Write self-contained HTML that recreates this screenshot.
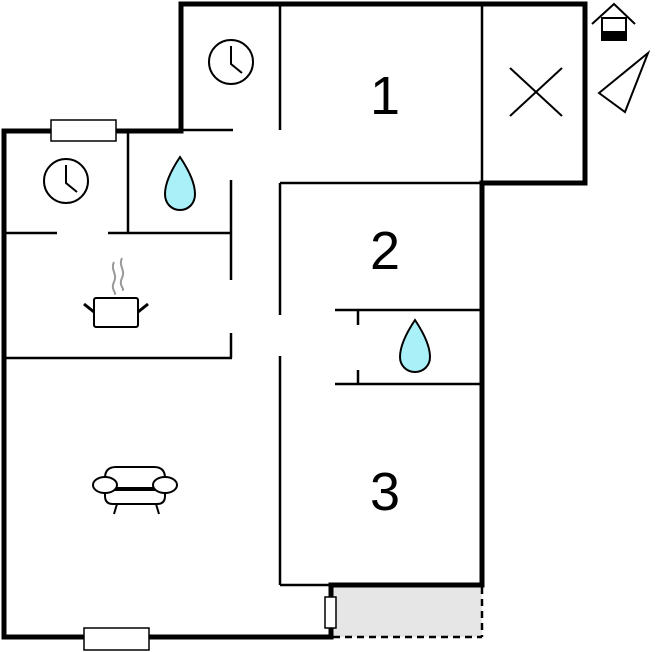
<!DOCTYPE html>
<html><head><style>html,body{margin:0;padding:0;background:#fff}svg{display:block}</style></head>
<body>
<svg width="658" height="652" viewBox="0 0 658 652" xmlns="http://www.w3.org/2000/svg">
<rect x="333" y="587" width="149" height="50" fill="#e6e6e6"/>
<g stroke="#000" stroke-width="2.5" fill="none">
<line x1="280" y1="4" x2="280" y2="130"/>
<line x1="181" y1="130" x2="233" y2="130"/>
<line x1="482" y1="4" x2="482" y2="183"/>
<line x1="280" y1="183" x2="482" y2="183"/>
<line x1="280" y1="183" x2="280" y2="315"/>
<line x1="280" y1="356" x2="280" y2="585"/>
<line x1="280" y1="585" x2="331" y2="585"/>
<line x1="128" y1="131" x2="128" y2="233"/>
<line x1="4" y1="233" x2="57" y2="233"/>
<line x1="108" y1="233" x2="232" y2="233"/>
<line x1="231" y1="180" x2="231" y2="280"/>
<line x1="231" y1="333" x2="231" y2="358"/>
<line x1="4" y1="358" x2="232" y2="358"/>
<line x1="335" y1="310" x2="482" y2="310"/>
<line x1="335" y1="384" x2="482" y2="384"/>
<line x1="358" y1="310" x2="358" y2="325"/>
<line x1="358" y1="370" x2="358" y2="384"/>
<line x1="482" y1="587" x2="482" y2="637" stroke-dasharray="7,5"/>
<line x1="333" y1="637" x2="482" y2="637" stroke-dasharray="7,5"/>
</g>
<g stroke="#000" stroke-width="5" fill="none" stroke-linecap="square">
<polyline points="181,130 181,4 585,4 585,183 482,183 482,585 331,585 331,637 4,637 4,131 181,131"/>
</g>
<g stroke="#000" stroke-width="1.5" fill="#fff">
<rect x="51" y="120" width="65" height="21"/>
<rect x="84" y="628" width="65" height="22"/>
<rect x="325" y="597" width="11" height="31"/>
</g>
<g stroke="#000" stroke-width="2" fill="none">
<circle cx="231" cy="62" r="22"/><polyline points="231,46 231,64 242,73"/>
<circle cx="66" cy="181" r="22"/><polyline points="66,165 66,183 77,192"/>
<line x1="510" y1="68" x2="562" y2="116"/><line x1="562" y1="68" x2="510" y2="116"/>
<polygon points="599,93 648,53 625,112"/>
<polyline points="592,24 614,4 635,24"/>
<rect x="602" y="18" width="24" height="22"/>
</g>
<rect x="602" y="31" width="24" height="9" fill="#000"/>
<g stroke="#000" stroke-width="2" fill="#aaf0f8">
<path d="M180,157 C170,172 165,185 165,194 C165,204 172,210 180,210 C188,210 195,204 195,194 C195,185 190,172 180,157 Z"/>
<path d="M415,320 C405,335 400,348 400,357 C400,366 407,372 415,372 C423,372 430,366 430,357 C430,348 425,335 415,320 Z"/>
</g>
<g stroke="#999" stroke-width="2" fill="none">
<path d="M114,262 c-4,8 4,12 0,20 c-4,8 4,12 0,12"/>
<path d="M122,258 c-4,8 4,12 0,20 c-4,8 4,12 0,12"/>
</g>
<g stroke="#000" stroke-width="2" fill="#fff">
<rect x="94" y="298" width="44" height="29" rx="2"/>
<line x1="84" y1="304" x2="94" y2="312" stroke-width="3"/>
<line x1="148" y1="304" x2="138" y2="312" stroke-width="3"/>
<path d="M105,488 L105,478 Q105,467 116,467 L154,467 Q165,467 165,478 L165,488 Z"/>
<path d="M105,490 L165,490 L165,496 Q165,504 157,504 L113,504 Q105,504 105,496 Z"/>
<ellipse cx="105" cy="485" rx="12" ry="8"/>
<ellipse cx="165" cy="485" rx="12" ry="8"/>
<line x1="117" y1="504" x2="114" y2="514"/>
<line x1="156" y1="504" x2="159" y2="514"/>
</g>
<g font-family="Liberation Sans, sans-serif" font-size="54" text-anchor="middle" fill="#000">
<text x="385" y="114">1</text>
<text x="385" y="269">2</text>
<text x="385" y="510">3</text>
</g>
</svg>
</body></html>
